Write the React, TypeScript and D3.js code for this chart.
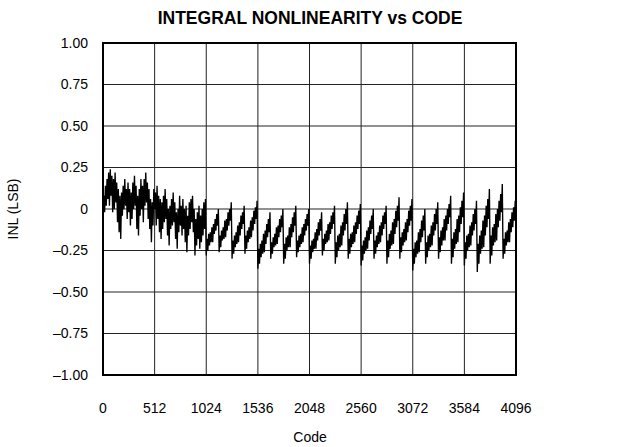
import React from "react";
import * as d3 from "d3";

// INL samples every 8 codes
const codeStep = 8;
const inl0to511 = [
  -0.06, 0.08, -0.02, 0.14, 0.02, 0.18, 0.06, 0.22,
  0.02, 0.24, 0.08, 0.2, -0.02, 0.18, 0.0, 0.22,
  0.04, 0.16, -0.08, 0.12, -0.14, 0.08, -0.18, 0.1,
  -0.04, 0.14, 0.0, 0.18, 0.02, 0.12, -0.06, 0.16,
  -0.02, 0.12, -0.1, 0.1, -0.06, 0.16, 0.0, 0.2,
  0.02, 0.14, -0.12, 0.08, -0.16, 0.12, -0.04, 0.18,
  0.0, 0.14, -0.08, 0.18, 0.02, 0.22, 0.04, 0.16,
  -0.06, 0.12, -0.12, 0.06, -0.2, 0.04, -0.1, 0.12,
];
const inl512to1023 = [
  0.0, 0.1, -0.1, 0.14, -0.06, 0.08, -0.14, 0.06,
  -0.18, 0.04, -0.12, 0.08, -0.08, 0.12, -0.06, 0.06,
  -0.16, 0.0, -0.22, 0.02, -0.12, 0.06, -0.1, 0.1,
  -0.08, 0.04, -0.18, -0.02, -0.24, 0.0, -0.14, 0.08,
  -0.1, 0.02, -0.16, 0.06, -0.12, 0.0, -0.2, 0.02,
  -0.26, -0.04, -0.16, 0.04, -0.12, 0.06, -0.08, 0.08,
  -0.14, 0.0, -0.28, -0.06, -0.22, -0.02, -0.18, 0.02,
  -0.24, -0.04, -0.2, 0.0, -0.16, 0.04, -0.12, 0.06,
];
const inl1024to1535 = [
  -0.28, -0.18, -0.25, -0.15, -0.22, -0.14, -0.2, -0.11, -0.2, -0.09, -0.15, -0.06, -0.13, -0.03, -0.1, 0.0,
  -0.26, -0.16, -0.23, -0.13, -0.19, -0.11, -0.18, -0.07, -0.17, -0.06, -0.13, -0.02, -0.1, 0.0, -0.07, 0.04,
  -0.3, -0.19, -0.27, -0.16, -0.23, -0.14, -0.21, -0.1, -0.2, -0.08, -0.16, -0.04, -0.12, -0.02, -0.09, 0.02,
  -0.27, -0.16, -0.24, -0.13, -0.2, -0.11, -0.18, -0.07, -0.17, -0.05, -0.13, -0.01, -0.09, 0.01, -0.06, 0.05,
];
const inl1536to2047 = [
  -0.36, -0.24, -0.33, -0.21, -0.29, -0.19, -0.27, -0.15, -0.26, -0.13, -0.21, -0.09, -0.17, -0.06, -0.14, -0.02,
  -0.3, -0.2, -0.27, -0.17, -0.23, -0.15, -0.22, -0.11, -0.21, -0.1, -0.17, -0.06, -0.14, -0.04, -0.11, 0.0,
  -0.33, -0.21, -0.3, -0.17, -0.25, -0.16, -0.23, -0.11, -0.23, -0.09, -0.17, -0.05, -0.14, -0.02, -0.1, 0.02,
  -0.29, -0.19, -0.26, -0.16, -0.23, -0.15, -0.21, -0.11, -0.2, -0.09, -0.16, -0.06, -0.13, -0.03, -0.1, 0.0,
];
const inl2048to2559 = [
  -0.33, -0.22, -0.3, -0.19, -0.26, -0.18, -0.24, -0.14, -0.24, -0.12, -0.19, -0.08, -0.16, -0.06, -0.13, -0.02,
  -0.28, -0.18, -0.25, -0.15, -0.21, -0.13, -0.2, -0.09, -0.19, -0.08, -0.15, -0.04, -0.12, -0.02, -0.09, 0.02,
  -0.33, -0.2, -0.29, -0.16, -0.25, -0.15, -0.23, -0.1, -0.22, -0.08, -0.16, -0.03, -0.13, 0.0, -0.09, 0.04,
  -0.3, -0.18, -0.27, -0.15, -0.23, -0.14, -0.21, -0.1, -0.2, -0.08, -0.15, -0.04, -0.12, -0.01, -0.09, 0.03,
];
const inl2560to3071 = [
  -0.34, -0.22, -0.31, -0.19, -0.27, -0.17, -0.25, -0.13, -0.24, -0.11, -0.19, -0.07, -0.15, -0.04, -0.12, 0.0,
  -0.3, -0.19, -0.27, -0.16, -0.23, -0.14, -0.21, -0.1, -0.2, -0.08, -0.16, -0.04, -0.12, -0.02, -0.09, 0.02,
  -0.33, -0.19, -0.29, -0.15, -0.24, -0.13, -0.22, -0.08, -0.21, -0.06, -0.15, -0.01, -0.11, 0.02, -0.07, 0.07,
  -0.3, -0.17, -0.26, -0.14, -0.22, -0.12, -0.2, -0.08, -0.19, -0.06, -0.14, -0.01, -0.1, 0.02, -0.07, 0.06,
];
const inl3072to3583 = [
  -0.37, -0.24, -0.33, -0.2, -0.29, -0.19, -0.27, -0.14, -0.26, -0.12, -0.2, -0.07, -0.17, -0.04, -0.13, 0.0,
  -0.33, -0.2, -0.29, -0.16, -0.25, -0.15, -0.23, -0.1, -0.22, -0.08, -0.16, -0.03, -0.13, 0.0, -0.09, 0.04,
  -0.3, -0.17, -0.26, -0.13, -0.22, -0.11, -0.19, -0.06, -0.19, -0.04, -0.13, 0.0, -0.09, 0.03, -0.05, 0.08,
  -0.33, -0.18, -0.29, -0.14, -0.24, -0.12, -0.21, -0.06, -0.2, -0.04, -0.14, 0.01, -0.09, 0.05, -0.05, 0.1,
];
const inl3584to4096 = [
  -0.34, -0.2, -0.3, -0.16, -0.25, -0.15, -0.23, -0.1, -0.22, -0.08, -0.16, -0.03, -0.13, 0.0, -0.09, 0.05,
  -0.38, -0.21, -0.33, -0.16, -0.27, -0.13, -0.24, -0.07, -0.23, -0.04, -0.16, 0.02, -0.11, 0.06, -0.06, 0.12,
  -0.33, -0.16, -0.28, -0.11, -0.22, -0.09, -0.2, -0.03, -0.19, 0.0, -0.11, 0.05, -0.07, 0.09, -0.02, 0.15,
  -0.3, -0.18, -0.27, -0.14, -0.22, -0.13, -0.2, -0.08, -0.2, -0.06, -0.14, -0.02, -0.11, 0.01, -0.07, 0.05,
  -0.02,
];

const xTicks = [0, 512, 1024, 1536, 2048, 2560, 3072, 3584, 4096];
const yTicks = [1, 0.75, 0.5, 0.25, 0, -0.25, -0.5, -0.75, -1];
const yTickLabels = ["1.00", "0.75", "0.50", "0.25", "0", "–0.25", "–0.50", "–0.75", "–1.00"];

const W = 621;
const H = 447;
const M = { left: 103, right: 516, top: 43, bottom: 375 };

export default function App() {
  const values = [
    ...inl0to511,
    ...inl512to1023,
    ...inl1024to1535,
    ...inl1536to2047,
    ...inl2048to2559,
    ...inl2560to3071,
    ...inl3072to3583,
    ...inl3584to4096,
  ];
  const data = values.map((v, i) => ({ code: i * codeStep, inl: v }));

  const x = d3.scaleLinear().domain([0, 4096]).range([M.left, M.right]);
  const y = d3.scaleLinear().domain([-1, 1]).range([M.bottom, M.top]);
  const line = d3
    .line<{ code: number; inl: number }>()
    .x((d) => x(d.code))
    .y((d) => y(d.inl));

  const font = "'Liberation Sans', Arial, Helvetica, sans-serif";

  return (
    <svg
      width={W}
      height={H}
      style={{ position: "absolute", left: 0, top: 0, background: "#fff" }}
      fontFamily={font}
    >
      <rect x={0} y={0} width={W} height={H} fill="#fff" />
      <text x={310} y={24} textAnchor="middle" fontWeight="bold" fontSize={17.5} fill="#000">
        INTEGRAL NONLINEARITY vs CODE
      </text>
      {xTicks.slice(1, -1).map((t) => (
        <line key={"gx" + t} x1={x(t)} x2={x(t)} y1={M.top} y2={M.bottom} stroke="#222" strokeWidth={1} />
      ))}
      {yTicks.slice(1, -1).map((t) => (
        <line key={"gy" + t} x1={M.left} x2={M.right} y1={y(t)} y2={y(t)} stroke="#222" strokeWidth={1} />
      ))}
      <path d={line(data) || ""} fill="none" stroke="#000" strokeWidth={1.35} strokeLinejoin="miter" />
      <rect
        x={M.left}
        y={M.top}
        width={M.right - M.left}
        height={M.bottom - M.top}
        fill="none"
        stroke="#000"
        strokeWidth={2}
      />
      {yTicks.map((t, i) => (
        <text key={"yl" + t} x={88} y={y(t)} dy="0.35em" textAnchor="end" fontSize={14} fill="#000">
          {yTickLabels[i]}
        </text>
      ))}
      {xTicks.map((t) => (
        <text key={"xl" + t} x={x(t)} y={413} textAnchor="middle" fontSize={14} fill="#000">
          {t}
        </text>
      ))}
      <text x={310} y={442} textAnchor="middle" fontSize={14} fill="#000">
        Code
      </text>
      <text
        transform={`translate(18, ${y(0)}) rotate(-90)`}
        textAnchor="middle"
        fontSize={14}
        fill="#000"
      >
        INL (LSB)
      </text>
    </svg>
  );
}
